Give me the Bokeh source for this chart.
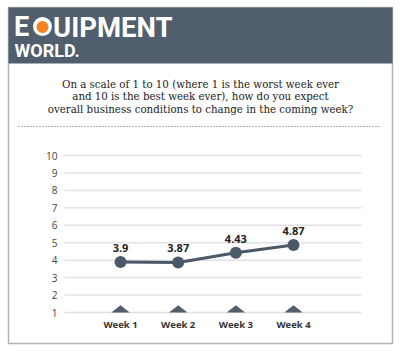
from bokeh.plotting import figure
from bokeh.models import Range1d, BoxAnnotation, Label, ColumnDataSource
from bokeh.core.properties import value
from bokeh.embed import file_html
from bokeh.resources import INLINE

# ---- data ----
weeks = ["Week 1", "Week 2", "Week 3", "Week 4"]
scores = [3.9, 3.87, 4.43, 4.87]
score_labels = ["3.9", "3.87", "4.43", "4.87"]
y_ticks = [1, 2, 3, 4, 5, 6, 7, 8, 9, 10]
y_tick_labels = [str(t) for t in y_ticks]
title_lines = [
    "On a scale of 1 to 10 (where 1 is the worst week ever",
    "and 10 is the best week ever), how do you expect",
    "overall business conditions to change in the coming week?",
]

# ---- layout ----
W, H = 400, 351
XS, XE = -1.081, 5.855
YS, YE = -1.235, 18.886


def X(px):
    return XS + px / W * (XE - XS)


def Y(py):
    return YE - py / H * (YE - YS)


SLATE = "#505e6d"
ORANGE = "#f5821f"

p = figure(width=W, height=H, x_range=Range1d(XS, XE), y_range=Range1d(YS, YE),
           x_axis_type=None, y_axis_type=None, min_border=0,
           outline_line_color=None, toolbar_location=None,
           output_backend="svg", background_fill_color="white")
p.grid.visible = False

# outer frame and header band
p.add_layout(BoxAnnotation(left=X(8), right=X(392), top=Y(7), bottom=Y(343),
                           fill_alpha=0, line_color="#b4b4b4", line_alpha=1,
                           line_width=1.5, level="underlay"))
p.add_layout(BoxAnnotation(left=X(8), right=X(392), top=Y(7), bottom=Y(63),
                           fill_color=SLATE, fill_alpha=1, line_alpha=0,
                           level="underlay"))

# logo
p.text(x=[X(13.5)], y=[Y(26.5)], text=["E"], text_color="white",
       text_font=value("Roboto"), text_font_style="bold",
       text_font_size="27px", text_baseline="alphabetic")
p.scatter(x=[X(42)], y=[Y(26)], size=19, fill_color="white", line_alpha=0)
p.scatter(x=[X(42)], y=[Y(26.5)], size=12, fill_color=ORANGE, line_alpha=0)
p.text(x=[X(52.5)], y=[Y(26.5)], text=["UIPMENT"], text_color="white",
       text_font=value("Roboto"), text_font_style="bold",
       text_font_size="27.5px", text_baseline="alphabetic")
p.text(x=[X(14)], y=[Y(49.5)], text=["WORLD."], text_color="white",
       text_font=value("Roboto"), text_font_style="bold",
       text_font_size="18px", text_baseline="alphabetic")

# question text
for i, line in enumerate(title_lines):
    p.add_layout(Label(x=X(200), y=Y(83 + 12.5 * i), text=line,
                       text_align="center", text_baseline="middle",
                       text_color="#222222",
                       text_font="DejaVu Serif Condensed",
                       text_font_size="11.4px"))

# dotted separator
p.add_layout(BoxAnnotation(left=X(18), right=X(380), top=Y(126), bottom=Y(126),
                           fill_alpha=0, line_color="#9a9a9a", line_alpha=1,
                           line_width=1, line_dash="1 2"))

# grid lines and y tick labels
n = len(y_ticks)
p.segment(x0=[X(64)] * n, x1=[X(361)] * n, y0=y_ticks, y1=y_ticks,
          line_color="#e2e2e2", line_width=1.5)
p.text(x=[X(57)] * n, y=y_ticks, text=y_tick_labels, text_align="right",
       text_baseline="middle", text_color="#444444",
       text_font=value("Open Sans"), text_font_size="10px")

# week markers (triangles on baseline) and labels
xs = list(range(1, len(weeks) + 1))
tri_x = [[x - 0.16, x, x + 0.16] for x in xs]
tri_y = [[y_ticks[0], y_ticks[0] + 0.42, y_ticks[0]] for _ in xs]
p.patches(xs=tri_x, ys=tri_y, fill_color=SLATE, line_alpha=0)
p.text(x=xs, y=[y_ticks[0] - 0.68] * len(xs), text=weeks, text_align="center",
       text_baseline="middle", text_color="#333333",
       text_font=value("Open Sans"), text_font_style="bold",
       text_font_size="9.5px")

# series
src = ColumnDataSource(dict(x=xs, y=scores, lab=score_labels))
p.line("x", "y", source=src, line_color="#4b5867", line_width=3)
p.scatter("x", "y", source=src, size=12, fill_color="#4b5867", line_alpha=0)
p.text("x", "y", text="lab", source=src, text_align="center",
       text_baseline="middle", y_offset=-14, text_color="#222222",
       text_font=value("Open Sans"), text_font_style="bold",
       text_font_size="11px")

open("out.html", "w").write(file_html(p, INLINE))
